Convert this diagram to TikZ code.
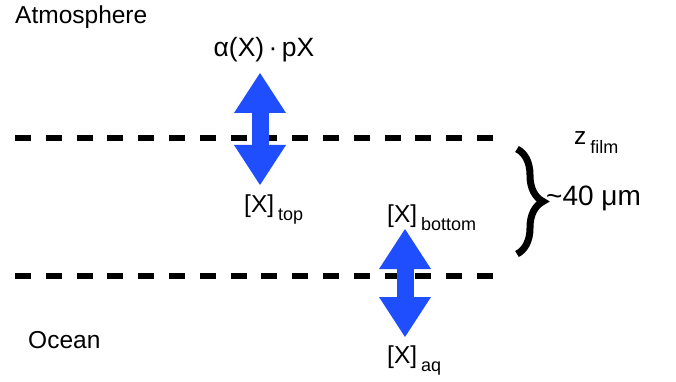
\documentclass[tikz,border=0pt]{standalone}
\usepackage{fontspec}
\setmainfont{Liberation Sans}
\usetikzlibrary{arrows.meta,decorations.pathreplacing}
\definecolor{arrowblue}{RGB}{31,78,255}
\newcommand\lowsub[1]{\raisebox{-8.5pt}{\fontsize{18}{18}\selectfont\hspace{4pt}#1}}
\tikzset{
  lbl/.style={inner sep=0pt, font=\fontsize{24.5}{28}\selectfont},
  filmline/.style={line width=6pt, dash pattern=on 16pt off 14.8pt},
  dblarrow/.style={arrowblue, line width=17pt,
    {Triangle[length=40pt,width=52pt,line width=0pt]}-{Triangle[length=40pt,width=52pt,line width=0pt]}},
  bracestyle/.style={decorate, decoration={brace, amplitude=26pt}, line width=7pt}
}
\begin{document}
\begin{tikzpicture}[x=1pt,y=-1pt]
\useasboundingbox (0,0) rectangle (676,382);
% labels
\node[lbl, anchor=base west] (atm) at (15,23.5) {Atmosphere};
\node[lbl, anchor=base west] (ocean) at (28,348) {Ocean};
\node[lbl, anchor=base, font=\fontsize{26.5}{30}\selectfont] (alpha) at (264,57) {α(X)\,·\,pX};
\node[lbl, anchor=base west] (xtop) at (244,212) {[X]\lowsub{top}};
\node[lbl, anchor=base west] (xbot) at (387,222) {[X]\lowsub{bottom}};
\node[lbl, anchor=base west] (xaq) at (387,363) {[X]\lowsub{aq}};
\node[lbl, anchor=base west] (zfilm) at (574,145) {z\lowsub{film}};
\node[lbl, anchor=base west, font=\fontsize{28}{32}\selectfont] (thick) at (546,205) {\textasciitilde 40 μm};
% film boundaries
\coordinate (l1a) at (15,138);
\coordinate (l1b) at (495,138);
\coordinate (l2a) at (15,276);
\coordinate (l2b) at (495,276);
\draw[filmline] (l1a) -- (l1b);
\draw[filmline] (l2a) -- (l2b);
% exchange arrows
\coordinate (a1t) at (260,73);
\coordinate (a1b) at (260,185);
\coordinate (a2t) at (405,229);
\coordinate (a2b) at (405,337);
\draw[dblarrow] (a1t) -- (a1b);
\draw[dblarrow] (a2t) -- (a2b);
% brace
\coordinate (bt) at (517,149);
\coordinate (bb) at (517,254);
\draw[bracestyle] (bt) -- (bb);
\end{tikzpicture}
\end{document}
